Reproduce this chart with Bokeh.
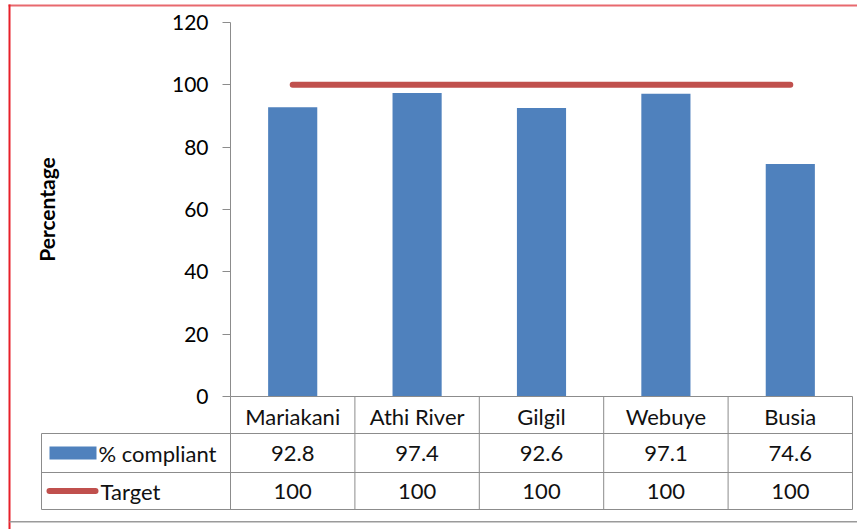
import numpy as np
from bokeh.plotting import figure
from bokeh.models import Range1d, FixedTicker, LinearAxis
from bokeh.core.properties import value
from bokeh.embed import file_html
from bokeh.resources import INLINE

# ---- data ----
categories = ["Mariakani", "Athi River", "Gilgil", "Webuye", "Busia"]
compliant = [92.8, 97.4, 92.6, 97.1, 74.6]
target = [100, 100, 100, 100, 100]
y_ticks = [0, 20, 40, 60, 80, 100, 120]
series_names = ["% compliant", "Target"]
y_title = "Percentage"

# ---- layout constants (pixels) ----
W, H = 857, 529
LEFT, RIGHT, TOP, ZERO = 230, 852, 22, 396
YMAX = 120
n = len(categories)
XS = (RIGHT - LEFT) / n
YS = (ZERO - TOP) / YMAX
ROW1, ROW2, ROW3 = 433, 472, 509
TAB_LEFT = 41

BLUE = "#4F81BD"
RED = "#C0504D"
GRID = "#8C8C8C"
FRAME_RED = "#E8202A"
FRAME_RED_LIGHT = "#E8696E"
FONT = "Lato"
TXT_COLOR = "#111111"


def dx(px):
    return (px - LEFT) / XS


def dy(py):
    return (ZERO - py) / YS


p = figure(width=W, height=H, output_backend="svg", toolbar_location=None,
           x_range=Range1d(dx(0), dx(W)), y_range=Range1d(dy(H), dy(0)),
           x_axis_location=None, y_axis_location=None, min_border=0)
p.background_fill_color = "white"
p.border_fill_color = "white"
p.outline_line_color = None
p.grid.visible = False

ax = LinearAxis(fixed_location=0)
ax.ticker = FixedTicker(ticks=y_ticks)
ax.bounds = (0, YMAX)
ax.axis_line_color = GRID
ax.major_tick_line_color = GRID
ax.major_tick_out = 8
ax.major_tick_in = 0
ax.minor_tick_out = 0
ax.minor_tick_in = 0
ax.major_label_standoff = 14
ax.major_label_text_font = FONT
ax.major_label_text_font_size = "21px"
ax.major_label_text_color = "#000000"
p.add_layout(ax, "left")

xc = np.arange(n) + 0.5

# bars and target line
p.vbar(x=xc, top=compliant, bottom=0, width=0.395, fill_color=BLUE, line_color=None)
p.line(x=xc, y=target, line_width=6, line_color=RED, line_cap="round")

# ---- data table ----
bx = np.arange(n + 1)
p.segment(x0=bx, y0=[0] * (n + 1), x1=bx, y1=[dy(ROW3)] * (n + 1), line_color=GRID, line_width=1)
p.segment(x0=[0], y0=[0], x1=[n], y1=[0], line_color=GRID, line_width=1)
hy = [dy(ROW1), dy(ROW2), dy(ROW3)]
p.segment(x0=[dx(TAB_LEFT)] * 3, y0=hy, x1=[n] * 3, y1=hy, line_color=GRID, line_width=1)
p.segment(x0=[dx(TAB_LEFT)], y0=[dy(ROW1)], x1=[dx(TAB_LEFT)], y1=[dy(ROW3)],
          line_color=GRID, line_width=1)

r0 = dy((ZERO + ROW1) / 2 + 1)
r1 = dy((ROW1 + ROW2) / 2)
r2 = dy((ROW2 + ROW3) / 2)

txt = dict(text_align="center", text_baseline="middle", text_font=value(FONT),
           text_font_size="22px", text_color=TXT_COLOR)
p.text(x=xc, y=[r0] * n, text=categories, **txt)
p.text(x=xc, y=[r1] * n, text=[f"{v:g}" for v in compliant], **txt)
p.text(x=xc, y=[r2] * n, text=[f"{v:g}" for v in target], **txt)

# legend keys + series names (left column of the table)
p.quad(left=[dx(49)], right=[dx(96)], top=[dy(446)], bottom=[dy(459)],
       fill_color=BLUE, line_color=None)
p.segment(x0=[dx(49)], y0=[r2], x1=[dx(95)], y1=[r2], line_color=RED,
          line_width=6, line_cap="round")
lab = dict(text_align="left", text_baseline="middle", text_font=value(FONT),
           text_font_size="22px", text_color=TXT_COLOR)
p.text(x=[dx(98)], y=[r1], text=[series_names[0]], **lab)
p.text(x=[dx(100)], y=[r2], text=[series_names[1]], **lab)

# y title
p.text(x=[dx(46)], y=[dy((TOP + ZERO) / 2)], text=[y_title], angle=np.pi / 2,
       text_align="center", text_baseline="middle", text_font=value(FONT),
       text_font_size="21px", text_font_style="bold", text_color="#000000")

# ---- picture border ----
p.quad(left=[dx(8), dx(8), dx(9)], right=[dx(W), dx(10), dx(W)],
       top=[dy(4), dy(4), dy(520.5)], bottom=[dy(6), dy(H), dy(522)],
       fill_color=[FRAME_RED_LIGHT, FRAME_RED, "#9A9A9A"], line_color=None)

open("out.html", "w").write(file_html(p, INLINE))
